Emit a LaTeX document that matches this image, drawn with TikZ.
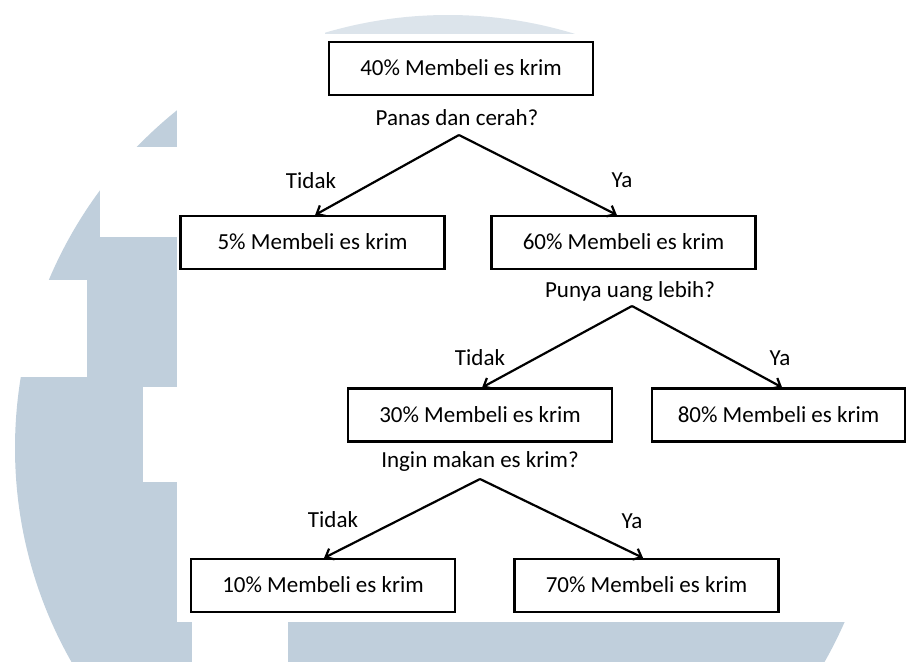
\documentclass[tikz,border=0pt]{standalone}
\usepackage{fontspec}
\setmainfont{Carlito}
\usetikzlibrary{arrows.meta,calc}
\definecolor{wm}{RGB}{192,207,220}
\begin{document}
\begin{tikzpicture}[x=1pt,y=-1pt,
  txt/.style={font=\fontsize{23}{27}\selectfont,text height=14.5pt,text depth=0pt,inner sep=0pt},
  box/.style={txt,draw=black,line width=2.2pt,fill=white,minimum width=264pt,minimum height=53pt},
  lbl/.style={txt},
  arr/.style={line width=2.2pt,-{Straight Barb[length=7pt,width=12pt,line width=2.2pt]}}]
\useasboundingbox (0,0) rectangle (906,662);
% watermark background
\begin{scope}
  \clip (0,0) rectangle (906,662);
  \fill[wm] (448,448) circle [radius=433pt];
  \fill[white] (100,147) rectangle (178,237);
  \fill[white] (0,280) rectangle (87,377);
  \fill[white] (143,387) rectangle (178,482);
  \fill[white] (192,600) rectangle (288,662);
  \fill[white,opacity=0.45] (177,0) rectangle (906,34);
  \fill[white] (177,0) rectangle (325,34);
  \fill[white] (650,0) rectangle (906,34);
  \fill[white] (177,34) rectangle (906,622);
\end{scope}
% level 1
\node[box] (n40) at (461,68.5) {40\% Membeli es krim};
\node[lbl] (q1) at (457,118) {Panas dan cerah?};
\coordinate (a1) at (459,135);
\node[box] (n5) at (312.5,242.5) {5\% Membeli es krim};
\node[box] (n60) at (623.5,242.5) {60\% Membeli es krim};
\node[lbl] (l1) at (311,181) {Tidak};
\node[lbl] (y1) at (622,180) {Ya};
\draw[arr] (a1) -- ($(n5.north west)!0.51!(n5.north east)$);
\draw[arr] (a1) -- ($(n60.north west)!0.475!(n60.north east)$);
% level 2
\node[lbl] (q2) at (630,290) {Punya uang lebih?};
\coordinate (a2) at (632,306);
\node[box] (n30) at (480,415) {30\% Membeli es krim};
\node[box,minimum width=253pt] (n80) at (778.5,415) {80\% Membeli es krim};
\node[lbl] (l2) at (480,358.5) {Tidak};
\node[lbl] (y2) at (780,358.5) {Ya};
\draw[arr] (a2) -- ($(n30.north west)!0.508!(n30.north east)$);
\draw[arr] (a2) -- ($(n80.north west)!0.514!(n80.north east)$);
% level 3
\node[lbl] (q3) at (480,460) {Ingin makan es krim?};
\coordinate (a3) at (480,479);
\node[box] (n10) at (323,585.5) {10\% Membeli es krim};
\node[box] (n70) at (646.5,585.5) {70\% Membeli es krim};
\node[lbl] (l3) at (333,520) {Tidak};
\node[lbl] (y3) at (632,521.5) {Ya};
\draw[arr] (a3) -- ($(n10.north west)!0.504!(n10.north east)$);
\draw[arr] (a3) -- ($(n70.north west)!0.487!(n70.north east)$);
\end{tikzpicture}
\end{document}
